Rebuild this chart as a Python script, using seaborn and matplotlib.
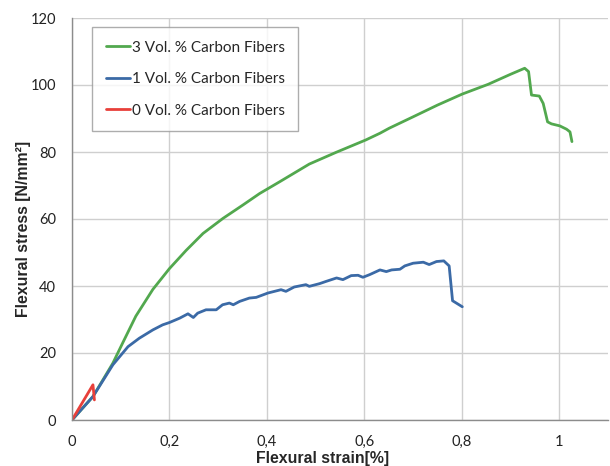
import numpy as np
import pandas as pd
import matplotlib
matplotlib.use("Agg")
import matplotlib.pyplot as plt
import seaborn as sns

# ---- data ----
strain_3 = [0.0, 0.043, 0.084, 0.104, 0.131, 0.166, 0.200, 0.234, 0.269, 0.310, 0.351,
            0.385, 0.426, 0.487, 0.542, 0.603, 0.632, 0.651, 0.700, 0.750, 0.801, 0.854,
            0.900, 0.929, 0.937, 0.943, 0.959, 0.967, 0.976, 0.984, 1.001, 1.015, 1.022, 1.026]
stress_3 = [0.0, 7.0, 17.0, 23.0, 31.0, 39.0, 45.2, 50.6, 55.7, 60.2, 64.2,
            67.6, 71.1, 76.4, 79.9, 83.6, 85.6, 87.1, 90.5, 94.0, 97.3, 100.2,
            103.2, 105.0, 104.0, 97.0, 96.7, 94.5, 89.0, 88.4, 87.8, 86.8, 86.0, 83.1]

strain_1 = [0.0, 0.043, 0.084, 0.115, 0.138, 0.166, 0.186, 0.200, 0.221, 0.238, 0.249,
            0.258, 0.275, 0.296, 0.309, 0.323, 0.331, 0.344, 0.364, 0.378, 0.402, 0.429,
            0.439, 0.456, 0.480, 0.487, 0.508, 0.522, 0.543, 0.556, 0.573, 0.587, 0.597,
            0.611, 0.632, 0.645, 0.656, 0.673, 0.683, 0.700, 0.721, 0.733, 0.748, 0.763,
            0.774, 0.781, 0.801]
stress_1 = [0.0, 7.0, 16.5, 21.9, 24.4, 26.9, 28.4, 29.1, 30.4, 31.7, 30.6,
            31.9, 32.9, 32.9, 34.4, 34.9, 34.4, 35.4, 36.4, 36.6, 37.9, 38.9,
            38.4, 39.7, 40.4, 39.9, 40.7, 41.4, 42.4, 41.9, 43.1, 43.2, 42.6,
            43.4, 44.8, 44.3, 44.8, 45.0, 46.0, 46.8, 47.1, 46.4, 47.3, 47.5,
            46.0, 35.6, 33.8]

strain_0 = [0.0, 0.043, 0.046]
stress_0 = [0.0, 10.5, 6.0]

labels = ["3 Vol. % Carbon Fibers", "1 Vol. % Carbon Fibers", "0 Vol. % Carbon Fibers"]
x_ticks = [0, 0.2, 0.4, 0.6, 0.8, 1.0]
x_tick_labels = ["0", "0,2", "0,4", "0,6", "0,8", "1"]
y_ticks = [0, 20, 40, 60, 80, 100, 120]

df = pd.concat([
    pd.DataFrame({"strain": strain_3, "stress": stress_3, "series": labels[0]}),
    pd.DataFrame({"strain": strain_1, "stress": stress_1, "series": labels[1]}),
    pd.DataFrame({"strain": strain_0, "stress": stress_0, "series": labels[2]}),
], ignore_index=True)

sns.set_theme(style="white")
plt.rcParams["font.family"] = ["Lato", "DejaVu Sans"]

fig = plt.figure(figsize=(6.1, 4.66), dpi=100)
ax = fig.add_axes([72 / 610, 46 / 466, 536 / 610, 402 / 466])

palette = {labels[0]: "#52a84e", labels[1]: "#3b6aa6", labels[2]: "#e8403a"}
sns.lineplot(data=df, x="strain", y="stress", hue="series", hue_order=labels,
             palette=palette, sort=False, estimator=None, lw=2.0, ax=ax)

ax.set_xlim(0, 1.1)
ax.set_ylim(0, 120)
ax.set_xticks(x_ticks)
ax.set_xticklabels(x_tick_labels)
ax.set_yticks(y_ticks)
ax.grid(True, color="#cfcfcf", lw=1.0)
ax.set_axisbelow(True)
for s in ["top", "right"]:
    ax.spines[s].set_visible(False)
for s in ["left", "bottom"]:
    ax.spines[s].set_color("#8c8c8c")
    ax.spines[s].set_linewidth(1.0)
ax.tick_params(axis="both", labelsize=10.5, colors="#9a9a9a", labelcolor="#222222",
               width=1, direction="out")
ax.tick_params(axis="y", length=3.5, pad=8)
ax.tick_params(axis="x", length=0, pad=11)

ax.set_xlabel("Flexural strain[%]", fontsize=11.4, fontweight="bold",
              family=["Liberation Sans", "DejaVu Sans"], va="top")
ax.xaxis.set_label_coords(0.468, -0.078)
ax.set_ylabel("Flexural stress [N/mm²]", fontsize=11.4, fontweight="bold",
              family=["Liberation Sans", "DejaVu Sans"])
ax.yaxis.set_label_coords(-0.076, 0.475)

leg = ax.legend(loc="upper left", bbox_to_anchor=(0.037, 0.978), borderaxespad=0,
                frameon=True, fancybox=False, edgecolor="#999999", fontsize=11,
                handlelength=1.6, handletextpad=0.1, labelspacing=1.15,
                borderpad=0.9, title=None)
leg.get_frame().set_linewidth(1.0)
for line in leg.get_lines():
    line.set_linewidth(2.0)

fig.savefig("out.png", dpi=100)
